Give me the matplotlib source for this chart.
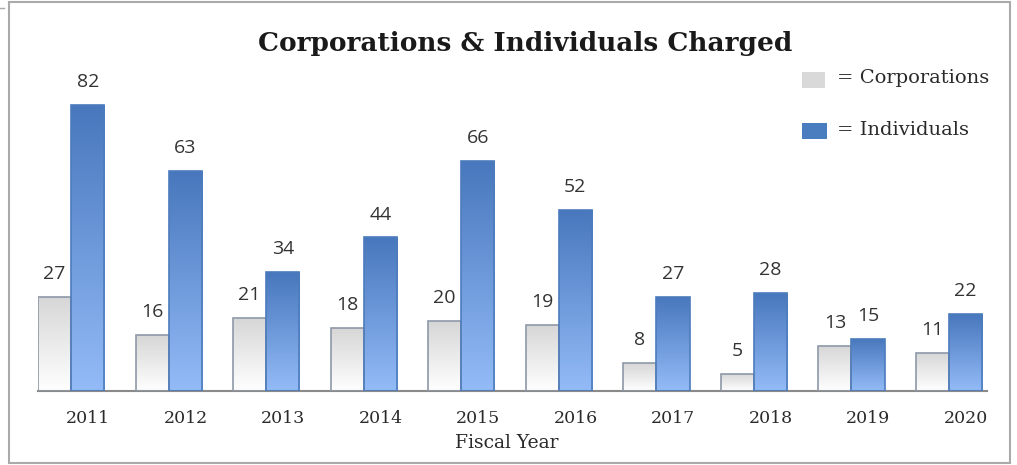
import numpy as np
import matplotlib
matplotlib.use("Agg")
import matplotlib.pyplot as plt
from matplotlib.colors import LinearSegmentedColormap
from matplotlib.transforms import ScaledTranslation
from matplotlib.lines import Line2D
from matplotlib.patches import Rectangle

years = ["2011", "2012", "2013", "2014", "2015", "2016", "2017", "2018", "2019", "2020"]
corporations = [27, 16, 21, 18, 20, 19, 8, 5, 13, 11]
individuals = [82, 63, 34, 44, 66, 52, 27, 28, 15, 22]

title = "Corporations & Individuals Charged"
xlabel = "Fiscal Year"

W, H = 1017, 465
fig = plt.figure(figsize=(W / 100, H / 100), dpi=100)
fig.patch.set_facecolor("white")

ax = fig.add_axes([38 / W, (H - 391) / H, (987 - 38) / W, 314 / H])
ax.set_facecolor("none")

x = np.arange(len(years))
w = 0.34

corp_cmap = LinearSegmentedColormap.from_list("corp", ["#ffffff", "#d6d6d6"])
ind_cmap = LinearSegmentedColormap.from_list("ind", ["#93bbf7", "#4877bd"])
grad = np.linspace(0, 1, 256).reshape(-1, 1)

bars_c = ax.bar(x - w / 2, corporations, w, facecolor="none",
                edgecolor="#8e98a8", linewidth=1.2, zorder=3)
bars_i = ax.bar(x + w / 2, individuals, w, facecolor="none",
                edgecolor="#4d7cbc", linewidth=1.2, zorder=3)

for bars, cmap in ((bars_c, corp_cmap), (bars_i, ind_cmap)):
    for b in bars:
        x0, y0 = b.get_x(), b.get_y()
        x1, y1 = x0 + b.get_width(), y0 + b.get_height()
        im = ax.imshow(grad, cmap=cmap, origin="lower", aspect="auto",
                       extent=[x0, x1, y0, y1], zorder=2, interpolation="bilinear")
        im.set_clip_path(b)

label_font = dict(family="Open Sans", fontsize=14, color="#333333")
for bars, vals in ((bars_c, corporations), (bars_i, individuals)):
    for b, v in zip(bars, vals):
        ax.annotate(str(v), (b.get_x() + b.get_width() / 2, b.get_height()),
                    xytext=(0, 10), textcoords="offset points",
                    ha="center", va="bottom", **label_font)

ax.set_xlim(-w, 9.39)
ax.set_ylim(0, 90)

for s in ["top", "right", "left"]:
    ax.spines[s].set_visible(False)
ax.spines["bottom"].set_color("#8a8a8a")
ax.spines["bottom"].set_linewidth(1.5)
ax.set_yticks([])

serif = "DejaVu Serif"
ax.set_xticks(x)
ax.set_xticklabels(years, family=serif, fontsize=12.5, color="#2a2a2a")
ax.tick_params(axis="x", length=0, pad=14)
shift = ScaledTranslation(17 / 100, 0, fig.dpi_scale_trans)
for lbl in ax.get_xticklabels():
    lbl.set_transform(lbl.get_transform() + shift)

fig.text(507 / W, 1 - 443 / H, xlabel, ha="center", va="center",
         family=serif, fontsize=13.5, color="#2a2a2a")

fig.text(525 / W, 1 - 44 / H, title, ha="center", va="center",
         family=serif, fontweight="bold", fontsize=19, color="#1a1a1a")

# legend keys and labels
fig.patches.append(Rectangle((802 / W, 1 - 88 / H), 23 / W, 16 / H,
                             transform=fig.transFigure, facecolor="#d9d9d9",
                             edgecolor="none"))
fig.patches.append(Rectangle((802 / W, 1 - 139 / H), 25 / W, 16 / H,
                             transform=fig.transFigure, facecolor="#4a7cc0",
                             edgecolor="none"))
fig.text(837 / W, 1 - 78 / H, "= Corporations", ha="left", va="center",
         family=serif, fontsize=14, color="#2a2a2a")
fig.text(837 / W, 1 - 130 / H, "= Individuals", ha="left", va="center",
         family=serif, fontsize=14, color="#2a2a2a")

# outer frame
fig.patches.append(Rectangle((8.5 / W, 1 - 463 / H), 1001 / W, 461 / H,
                             transform=fig.transFigure, facecolor="none",
                             edgecolor="#aaaaaa", linewidth=1.5))
fig.lines.append(Line2D([0, 4 / W], [1 - 8 / H, 1 - 8 / H],
                        transform=fig.transFigure, color="#aaaaaa", linewidth=1))

fig.savefig("out.png", dpi=100)
